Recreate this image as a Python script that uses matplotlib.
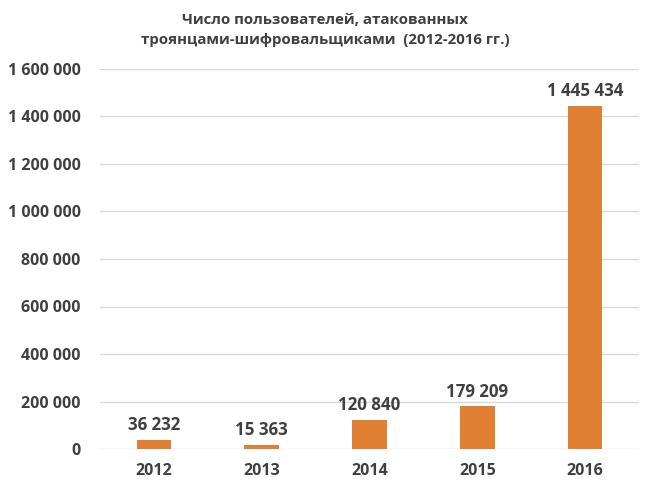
import matplotlib.pyplot as plt
from matplotlib.ticker import FuncFormatter

years = ['2012', '2013', '2014', '2015', '2016']
users = [36232, 15363, 120840, 179209, 1445434]
y_ticks = [0, 200000, 400000, 600000, 800000, 1000000, 1200000, 1400000, 1600000]

title = 'Число пользователей, атакованных\nтроянцами-шифровальщиками  (2012-2016 гг.)'

bar_color = '#E07F32'
text_color = '#404040'
grid_color = '#D9D9D9'

plt.rcParams['font.family'] = ['Open Sans', 'DejaVu Sans']


def fmt(v, pos=None):
    return f'{int(v):,}'.replace(',', ' ')


fig = plt.figure(figsize=(6.5, 4.91), dpi=100)
ax = fig.add_axes([100 / 650, 1 - 449 / 491, 539 / 650, 380 / 491])

x = range(len(years))
ax.bar(x, users, width=0.32, color=bar_color, zorder=2)

for i, v in enumerate(users):
    ax.text(i, v + 25000, fmt(v), ha='center', va='bottom',
            fontsize=12.2, fontweight='bold', color=text_color)

ax.set_xlim(-0.5, 4.5)
ax.set_ylim(0, 1600000)
ax.set_yticks(y_ticks)
ax.yaxis.set_major_formatter(FuncFormatter(fmt))
ax.set_xticks(list(x))
ax.set_xticklabels(years)

ax.grid(axis='y', color=grid_color, linewidth=1, zorder=0)
for s in ax.spines.values():
    s.set_visible(False)
ax.tick_params(length=0, labelsize=11.5, labelcolor=text_color)
ax.tick_params(axis='y', pad=14)
ax.tick_params(axis='x', pad=10)
for lab in ax.get_xticklabels() + ax.get_yticklabels():
    lab.set_fontweight('bold')

fig.text(0.5, 1 - 30 / 491, title, ha='center', va='center',
         fontsize=10.8, fontweight='bold', color=text_color, linespacing=1.55)

fig.savefig('out.png', dpi=100, facecolor='white')
